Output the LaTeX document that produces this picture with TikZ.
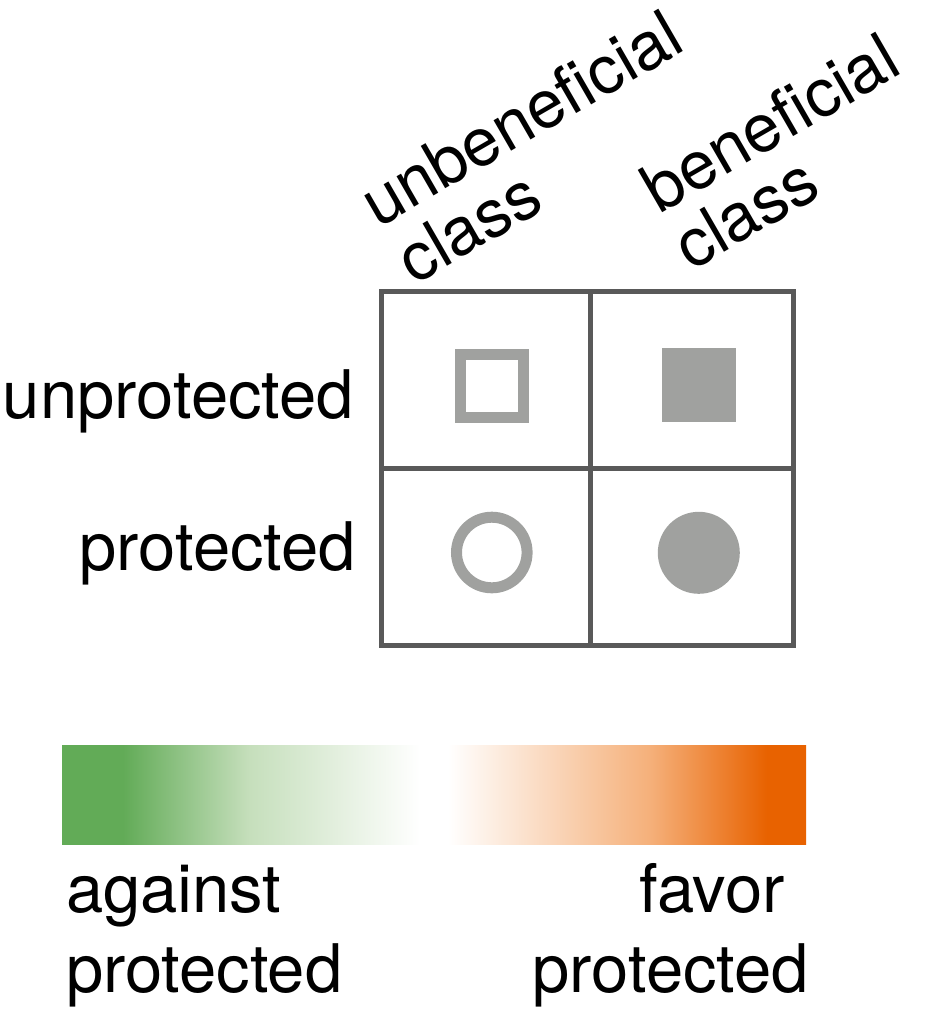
\documentclass[tikz,border=0pt]{standalone}
\usepackage{fontspec}
\setmainfont{TeX Gyre Heros}
\definecolor{gridc}{RGB}{89,89,89}
\definecolor{sym}{RGB}{160,161,159}
\definecolor{gA}{RGB}{98,171,87}
\definecolor{gB}{RGB}{198,223,188}
\definecolor{oB}{RGB}{245,176,122}
\definecolor{oA}{RGB}{232,98,0}
\pgfdeclarehorizontalshading{cbar}{100bp}{color(0bp)=(gA); color(29.10bp)=(gA); color(37.63bp)=(gB); color(49.06bp)=(white); color(50.94bp)=(white); color(64.52bp)=(oB); color(72.38bp)=(oA); color(100bp)=(oA)}
\begin{document}
\begin{tikzpicture}[x=1pt,y=-1pt,
  gridline/.style={draw=gridc, line width=5pt, line join=miter},
  lab/.style={inner sep=0pt, outer sep=0pt, font=\fontsize{67}{80}\selectfont},
  rot/.style={lab, rotate=30, anchor=base west}]
\useasboundingbox (0,0) rectangle (945,1026);
% grid
\coordinate (tl) at (381,291);
\coordinate (br) at (793.5,645);
\coordinate (mt) at (590,291);
\coordinate (mb) at (590,645);
\coordinate (ml) at (381,468);
\coordinate (mr) at (793.5,468);
\draw[gridline] (tl) rectangle (br);
\draw[gridline] (mt) -- (mb);
\draw[gridline] (ml) -- (mr);
% symbols
\node[draw=sym, line width=11pt, minimum size=63pt, inner sep=0pt] (sqo) at (492,385.5) {};
\node[fill=sym, minimum size=74pt, inner sep=0pt] (sqf) at (699,385.3) {};
\node[circle, draw=sym, line width=11pt, minimum size=70.6pt, inner sep=0pt] (cio) at (491.8,552.5) {};
\node[circle, fill=sym, minimum size=82pt, inner sep=0pt] (cif) at (698.8,552.8) {};
% row labels
\node[lab, anchor=base east] (unp) at (354,418) {unprotected};
\node[lab, anchor=base east] (pro) at (356,570) {protected};
% column labels
\node[rot] (ub1) at (378,228) {unbeneficial};
\node[rot] (ub2) at (414,285) {class};
\node[rot] (b1) at (659,214) {beneficial};
\node[rot] (b2) at (691,271) {class};
% colour bar
\shade[shading=cbar] (62,745) rectangle (806,844);
% bar labels
\node[lab, anchor=base west] (ag1) at (66,912) {against};
\node[lab, anchor=base west] (ag2) at (66,992) {protected};
\node[lab, anchor=base west] (fa1) at (639,912) {favor};
\node[lab, anchor=base east] (fa2) at (809,992) {protected};
\end{tikzpicture}
\end{document}
